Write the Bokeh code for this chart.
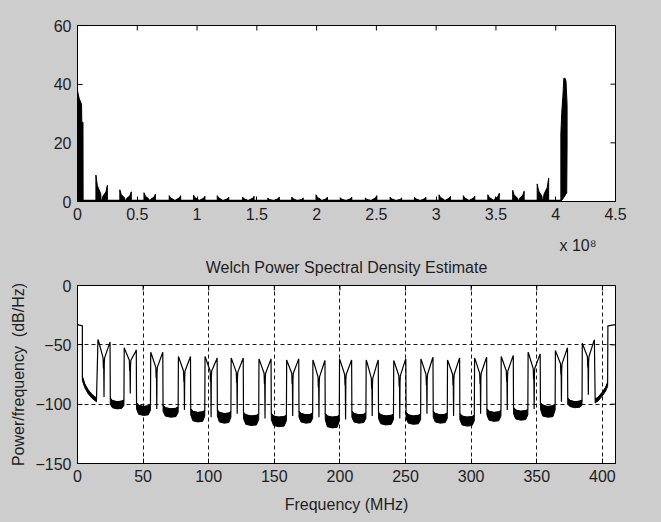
from bokeh.plotting import figure
from bokeh.layouts import column
from bokeh.models import FixedTicker, Title, NumeralTickFormatter, Range1d
from bokeh.embed import file_html
from bokeh.resources import INLINE

# ---------------- data ----------------
# channel centres (MHz)
chan_center = [20.2, 40.2, 60.4, 81.5, 101.8, 121.7, 142.9, 164.0, 184.0, 204.3,
               224.6, 245.6, 266.3, 286.6, 307.2, 327.5, 348.0, 368.8, 389.3]
chan_half_width = 4.8
# Welch PSD (dB/Hz)
psd_peak_l = [-45.5, -52.5, -56.2, -59.8, -59.8, -61.0, -61.8, -62.7, -62.7, -61.8,
              -62.7, -63.2, -61.8, -62.7, -61.0, -59.8, -56.2, -54.8, -48.6]
psd_peak_r = [-47.7, -54.2, -56.2, -59.8, -61.0, -61.0, -61.8, -61.8, -63.2, -62.7,
              -62.7, -61.8, -60.4, -61.0, -60.4, -58.9, -57.6, -52.5, -45.8]
psd_dip = [-61, -63, -69, -72, -72, -73, -74, -74, -77, -75,
           -78, -76, -75, -75, -74, -72, -70, -66, -60]
psd_notch = [-94, -91, -104, -105, -111, -108, -112, -110, -111, -113,
             -110, -112, -108, -110, -108, -105, -104, -98, -92]
gap_top = [-98, -102, -104, -107, -108, -110, -111, -109, -111,
           -109, -110, -110, -109, -111, -107, -106, -102, -98]
gap_bot = [-104, -109.5, -111, -115, -116, -118, -119, -116, -120,
           -116, -117.5, -117, -116, -118.5, -114.5, -113.5, -111, -103]
edge_lo_mhz = [0.0, 3.7]
edge_lo_db = [-33, -34]
roll_lo_mhz = [3.7, 5.5, 8.0, 11.0, 14.5]
roll_lo_db = [-77, -83, -88, -92, -95]
roll_hi_mhz = [394.5, 397.0, 400.0, 402.5, 404.0]
roll_hi_db = [-96, -94, -90, -86, -82]
edge_hi_mhz = [404.2, 410.0]
edge_hi_db = [-34, -33]

# magnitude spectrum (linear), per channel left / right spike heights
mag_l = [9, 4, 3, 2, 2.2, 2, 1.5, 1.2, 1.5, 2.3, 1.3, 1.2, 1.5, 1.5, 2.3, 2, 2.3, 3.8, 6]
mag_r = [5.5, 3.3, 2.5, 2, 1.8, 1.5, 1.8, 1.5, 1.2, 1.5, 1.5, 2, 1.2, 1.5, 1.8, 1.8, 2.8, 3.5, 8]
dc_mag_mhz = [0, 0, 0.4, 1.5, 2.6, 3.4, 3.6, 4.6, 4.7]
dc_mag = [0, 38, 37, 35, 34, 33, 27, 27, 0]
hi_mag_mhz = [404.3, 404.3, 405.0, 406.0, 406.8, 407.8, 408.6, 409.5, 409.5, 409.2, 407.0]
hi_mag = [0, 23, 30, 36, 42, 42, 41, 33, 19, 3, 1.5]
baseline_mhz = [0, 404.3]
baseline_mag = [0.25, 0.25]

top_xticks = [0, 0.5, 1, 1.5, 2, 2.5, 3, 3.5, 4, 4.5]
top_yticks = [0, 20, 40, 60]
bot_xticks = [0, 50, 100, 150, 200, 250, 300, 350, 400]
bot_yticks = [-150, -100, -50, 0]
top_xrange = (0, 4.5)
top_yrange = (0, 60)
bot_xrange = (0, 410)
bot_yrange = (-150, 0)

GREY = "#cdcdcd"
FONT = "Liberation Sans"
TXT = "#1e1e1e"
W = chan_half_width
FRAME_W = 538
TICK_PX = 5


def style_axes(p, xticks, yticks, xr, yr, frame_h, fmt=None):
    for ax in list(p.xaxis) + list(p.yaxis):
        ax.major_tick_in = TICK_PX
        ax.major_tick_out = 0
        ax.minor_tick_line_color = None
        ax.axis_line_color = "black"
        ax.major_tick_line_color = "black"
        ax.major_label_text_font = FONT
        ax.major_label_text_font_size = "16px"
        ax.major_label_text_color = TXT
        ax.major_label_standoff = 6
    p.xaxis.ticker = FixedTicker(ticks=xticks)
    p.yaxis.ticker = FixedTicker(ticks=yticks)
    if fmt is not None:
        p.xaxis.formatter = fmt
    # inward ticks on the top and right edges of the box
    dy = (yr[1] - yr[0]) * TICK_PX / frame_h
    dx = (xr[1] - xr[0]) * TICK_PX / FRAME_W
    p.segment(x0=xticks, y0=[yr[1]] * len(xticks), x1=xticks,
              y1=[yr[1] - dy] * len(xticks), line_color="black", line_width=1)
    p.segment(x0=[xr[1]] * len(yticks), y0=yticks, x1=[xr[1] - dx] * len(yticks),
              y1=yticks, line_color="black", line_width=1)


# ---------------- top: magnitude spectrum ----------------
p1 = figure(width=661, height=279, x_range=Range1d(*top_xrange), y_range=Range1d(*top_yrange),
            output_backend="svg", toolbar_location=None,
            min_border_left=77, min_border_right=46, min_border_top=25, min_border_bottom=78,
            background_fill_color="white", border_fill_color=GREY,
            outline_line_color="black")
p1.grid.visible = False
style_axes(p1, top_xticks, top_yticks, top_xrange, top_yrange, 176,
           NumeralTickFormatter(format="0.[0]"))

mx, my = [], []
for i, c in enumerate(chan_center):
    e1, e2 = c - W, c + W
    L, R = mag_l[i], mag_r[i]
    xs = [e1, e1, e1 + 1.2, c - 0.8, c - 0.4, c + 0.4, c + 0.8, e2 - 1.2, e2, e2]
    ys = [0, L, L * 0.6, L * 0.3, 0.2, 0.2, R * 0.3, R * 0.6, R, 0]
    mx.append([x / 100 for x in xs])
    my.append(ys)
mx.append([x / 100 for x in dc_mag_mhz]); my.append(dc_mag)
mx.append([x / 100 for x in hi_mag_mhz]); my.append(hi_mag)
p1.patches(mx, my, fill_color="black", line_color="black", line_width=1)
p1.line([x / 100 for x in baseline_mhz], baseline_mag, line_color="black", line_width=2)

p1.add_layout(Title(text="x 10\u2078", align="right", offset=19, standoff=24,
                    text_font=FONT, text_font_size="16px", text_font_style="normal",
                    text_color=TXT), "below")
p1.add_layout(Title(text="Welch Power Spectral Density Estimate", align="center",
                    standoff=-18, text_font=FONT, text_font_size="16px",
                    text_font_style="normal", text_color=TXT), "below")

# ---------------- bottom: Welch PSD ----------------
p2 = figure(width=661, height=243, x_range=Range1d(*bot_xrange), y_range=Range1d(*bot_yrange),
            output_backend="svg", toolbar_location=None,
            min_border_left=77, min_border_right=46, min_border_top=6, min_border_bottom=59,
            background_fill_color="white", border_fill_color=GREY,
            outline_line_color="black")
style_axes(p2, bot_xticks, bot_yticks, bot_xrange, bot_yrange, 178)
p2.xgrid.ticker = FixedTicker(ticks=bot_xticks)
p2.ygrid.ticker = FixedTicker(ticks=bot_yticks)
p2.grid.grid_line_color = "black"
p2.grid.grid_line_dash = "4 3"
p2.grid.grid_line_width = 1
p2.grid.grid_line_alpha = 0.9

xax = p2.below[0]
yax = p2.left[0]
xax.axis_label = "Frequency (MHz)"
yax.axis_label = "Power/frequency\u00a0 (dB/Hz)"
for ax in (xax, yax):
    ax.axis_label_text_font = FONT
    ax.axis_label_text_font_size = "16px"
    ax.axis_label_text_font_style = "normal"
    ax.axis_label_text_color = TXT
xax.axis_label_standoff = 11
yax.axis_label_standoff = 5

lx, ly = list(edge_lo_mhz), list(edge_lo_db)
fill_x, fill_y = [], []
lx += roll_lo_mhz
ly += roll_lo_db
fill_x.append(roll_lo_mhz + roll_lo_mhz[::-1])
fill_y.append(roll_lo_db + [v - 3 for v in roll_lo_db[::-1]])
n = len(chan_center)
for i, c in enumerate(chan_center):
    e1, e2 = c - W, c + W
    PL, PR, D, N = psd_peak_l[i], psd_peak_r[i], psd_dip[i], psd_notch[i]
    lx += [e1 + 0.2, e1 + 0.7, c - 0.7, c - 0.45, c - 0.25, c, c + 0.2, c + 0.45,
           e2 - 0.7, e2 - 0.2]
    ly += [PL, PL - 1.5, D, D - 9, D - 2, N, D - 5, D, PR - 1.5, PR]
    if i < n - 1:
        a, b = e2, chan_center[i + 1] - W
        Lg = b - a
        T, B = gap_top[i], gap_bot[i]
        gx = [a, a + 0.15 * Lg, a + 0.5 * Lg, a + 0.85 * Lg, b]
        up = [T + 3, T + 1, T, T + 0.5, T + 1.5]
        lo = [T - 2, B + 1, B, B + 0.5, T - 3]
        lx += gx
        ly += up
        fill_x.append(gx + gx[::-1])
        fill_y.append(up + lo[::-1])
lx += roll_hi_mhz
ly += roll_hi_db
fill_x.append(roll_hi_mhz + roll_hi_mhz[::-1])
fill_y.append(roll_hi_db + [v - 3 for v in roll_hi_db[::-1]])
lx += edge_hi_mhz
ly += edge_hi_db

p2.patches(fill_x, fill_y, fill_color="black", line_color="black", line_width=1)
p2.line(lx, ly, line_color="black", line_width=1.2)

layout = column(p1, p2, spacing=0, styles={"background-color": GREY})
open("out.html", "w").write(file_html(layout, INLINE))
